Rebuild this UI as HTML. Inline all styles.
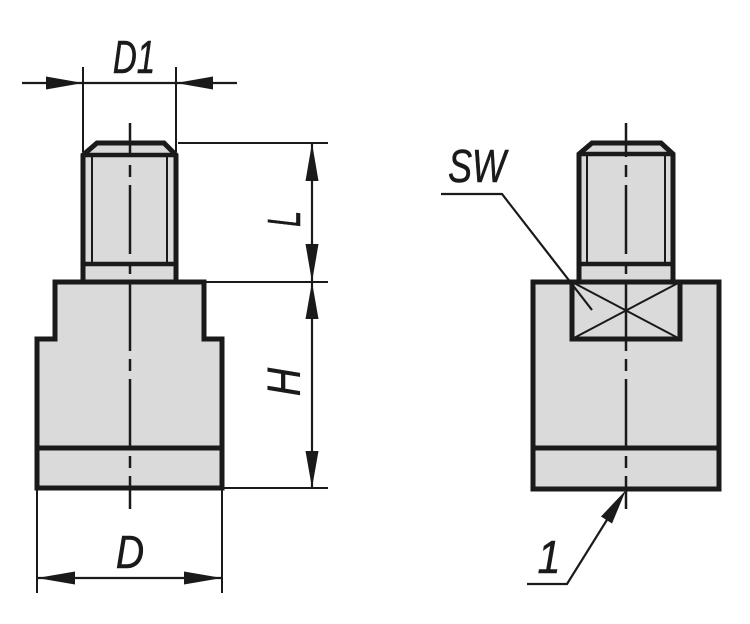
<!DOCTYPE html>
<html>
<head>
<meta charset="utf-8">
<style>
  html,body{margin:0;padding:0;background:#fff;}
  svg{display:block;}
  text{font-family:"Liberation Sans",sans-serif;font-style:italic;font-size:46px;fill:#1a1a1a;stroke:#1a1a1a;stroke-width:0.6;}
</style>
</head>
<body>
<svg width="750" height="624" viewBox="0 0 750 624" xmlns="http://www.w3.org/2000/svg">
  <rect width="750" height="624" fill="#fff"/>

  <!-- ================= LEFT VIEW ================= -->
  <path d="M83,282 V155 L97,143 H164 L176,155 V282 Z" fill="#dadada"/>
  <path d="M55,282 H204 V339 H222 V488 H37 V339 H55 Z" fill="#dadada"/>

  <line x1="92" y1="155" x2="92" y2="264" stroke="#1a1a1a" stroke-width="2"/>
  <line x1="167" y1="155" x2="167" y2="264" stroke="#1a1a1a" stroke-width="2"/>
  <path d="M83,282 V155 L97,143 H164 L176,155 V282" fill="none" stroke="#1a1a1a" stroke-width="5" stroke-linejoin="miter"/>
  <line x1="83" y1="155" x2="176" y2="155" stroke="#1a1a1a" stroke-width="4.5"/>
  <line x1="83" y1="264" x2="176" y2="264" stroke="#1a1a1a" stroke-width="4.5"/>
  <path d="M55,282 H204 V339 H222 V488 H37 V339 H55 Z" fill="none" stroke="#1a1a1a" stroke-width="5"/>
  <line x1="37" y1="448" x2="222" y2="448" stroke="#1a1a1a" stroke-width="5"/>

  <line x1="130" y1="123" x2="130" y2="509" stroke="#1a1a1a" stroke-width="2.5" stroke-dasharray="69 8 12 8" stroke-dashoffset="35"/>

  <!-- D1 dimension -->
  <line x1="83" y1="67" x2="83" y2="152" stroke="#1a1a1a" stroke-width="2"/>
  <line x1="176" y1="67" x2="176" y2="152" stroke="#1a1a1a" stroke-width="2"/>
  <line x1="22" y1="83" x2="237" y2="83" stroke="#1a1a1a" stroke-width="2.2"/>
  <polygon points="83,83 46,76.5 46,89.5" fill="#1a1a1a"/>
  <polygon points="176,83 213,76.5 213,89.5" fill="#1a1a1a"/>
  <text transform="translate(134,73) scale(0.72,1)" text-anchor="middle">D1</text>

  <!-- L / H dimension -->
  <line x1="178" y1="143" x2="328" y2="143" stroke="#1a1a1a" stroke-width="2"/>
  <line x1="206" y1="282" x2="328" y2="282" stroke="#1a1a1a" stroke-width="2"/>
  <line x1="224" y1="488" x2="328" y2="488" stroke="#1a1a1a" stroke-width="2"/>
  <line x1="312" y1="143" x2="312" y2="488" stroke="#1a1a1a" stroke-width="2.2"/>
  <polygon points="312,143 305.5,181 318.5,181" fill="#1a1a1a"/>
  <polygon points="312,282 305.5,244 318.5,244" fill="#1a1a1a"/>
  <polygon points="312,282 305.5,319 318.5,319" fill="#1a1a1a"/>
  <polygon points="312,488 305.5,451 318.5,451" fill="#1a1a1a"/>
  <text transform="translate(300,219) rotate(-90) scale(0.62,1)" text-anchor="middle">L</text>
  <text transform="translate(300,382) rotate(-90) scale(0.85,1)" text-anchor="middle">H</text>

  <!-- D dimension -->
  <line x1="37" y1="490" x2="37" y2="593" stroke="#1a1a1a" stroke-width="2"/>
  <line x1="222" y1="490" x2="222" y2="593" stroke="#1a1a1a" stroke-width="2"/>
  <line x1="37" y1="578" x2="222" y2="578" stroke="#1a1a1a" stroke-width="2.2"/>
  <polygon points="37,578 75,571.5 75,584.5" fill="#1a1a1a"/>
  <polygon points="222,578 184,571.5 184,584.5" fill="#1a1a1a"/>
  <text transform="translate(130,568) scale(0.85,1)" text-anchor="middle">D</text>

  <!-- ================= RIGHT VIEW ================= -->
  <path d="M579,282 V154 L592,143 H661 L673,154 V282 Z" fill="#dadada"/>
  <rect x="533" y="282" width="186" height="207" fill="#dadada"/>

  <line x1="587" y1="154" x2="587" y2="264" stroke="#1a1a1a" stroke-width="2"/>
  <line x1="665" y1="154" x2="665" y2="264" stroke="#1a1a1a" stroke-width="2"/>
  <path d="M579,282 V154 L592,143 H661 L673,154 V282" fill="none" stroke="#1a1a1a" stroke-width="5"/>
  <line x1="579" y1="154" x2="673" y2="154" stroke="#1a1a1a" stroke-width="4.5"/>
  <line x1="579" y1="264" x2="673" y2="264" stroke="#1a1a1a" stroke-width="4.5"/>

  <line x1="572" y1="282" x2="680" y2="339" stroke="#1a1a1a" stroke-width="2"/>
  <line x1="572" y1="339" x2="680" y2="282" stroke="#1a1a1a" stroke-width="2"/>
  <rect x="572" y="282" width="108" height="57" fill="none" stroke="#1a1a1a" stroke-width="5"/>

  <rect x="533" y="282" width="186" height="207" fill="none" stroke="#1a1a1a" stroke-width="5"/>
  <line x1="533" y1="448" x2="719" y2="448" stroke="#1a1a1a" stroke-width="5"/>

  <line x1="626" y1="123" x2="626" y2="509" stroke="#1a1a1a" stroke-width="2.5" stroke-dasharray="69 8 12 8" stroke-dashoffset="35"/>

  <!-- SW leader -->
  <polyline points="441,194 502,194 592,310" fill="none" stroke="#1a1a1a" stroke-width="2.2"/>
  <text transform="translate(477,182) scale(0.78,1)" text-anchor="middle">SW</text>

  <!-- 1 leader -->
  <polyline points="527,584 567,584 620,499" fill="none" stroke="#1a1a1a" stroke-width="2.2"/>
  <polygon points="626,490 601,516.5 612,523.5" fill="#1a1a1a"/>
  <text transform="translate(549,573) scale(0.9,1)" text-anchor="middle">1</text>
</svg>
</body>
</html>
